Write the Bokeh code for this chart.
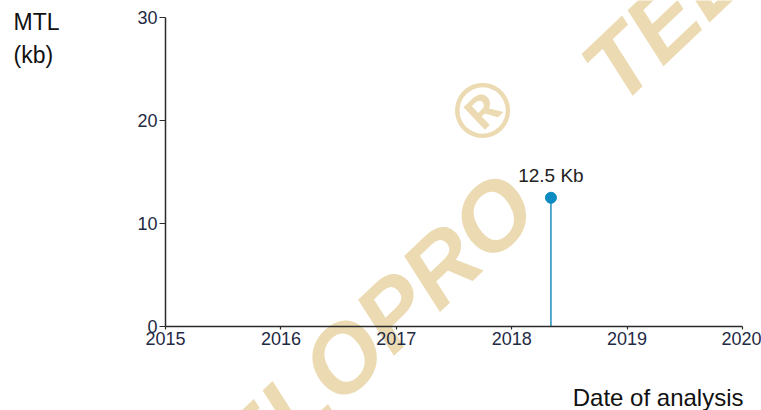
from bokeh.plotting import figure
from bokeh.models import ColumnDataSource, Label, FixedTicker, Range1d
from bokeh.embed import file_html
from bokeh.resources import INLINE

# ---- data ----
year_ticks = [2015, 2016, 2017, 2018, 2019, 2020]
mtl_ticks = [0, 10, 20, 30]
analysis_dates = [2018.34]
mtl_kb = [12.5]
point_labels = ["%.1f Kb" % v for v in mtl_kb]

W, H = 761, 410
# frame covers whole canvas; axes are pinned at fixed locations
px_per_year = 577 / 5.0
px_per_kb = 309 / 30.0
x0 = 2015 - 165 / px_per_year
x1 = 2020 + (W - 742) / px_per_year
y0 = 0 - (H - 326) / px_per_kb
y1 = 30 + 17 / px_per_kb

p = figure(width=W, height=H, output_backend="svg", toolbar_location=None,
           x_range=Range1d(x0, x1), y_range=Range1d(y0, y1), min_border=0,
           min_border_left=0, min_border_right=0, min_border_top=0,
           min_border_bottom=0)
p.outline_line_color = None
p.grid.visible = False
p.background_fill_color = "white"
p.border_fill_color = "white"

FONT = "Arial"

# watermark (behind everything)
wm_color = "#ecdbb2"
for (sx, sy) in [(186, -97), (597, 327)]:
    p.add_layout(Label(x=sx, y=sy, x_units="screen", y_units="screen",
                       text="TELOPRO", angle=0.76, text_align="left",
                       text_baseline="middle", text_font=FONT,
                       text_font_style="bold italic", text_font_size="95px",
                       text_color=wm_color, level="underlay"))
p.add_layout(Label(x=482, y=300, x_units="screen", y_units="screen",
                   text="\u00ae", angle=0.76, text_align="center",
                   text_baseline="middle", text_font=FONT,
                   text_font_style="bold", text_font_size="78px",
                   text_color=wm_color, level="underlay"))

for ax in (p.xaxis, p.yaxis):
    ax.axis_line_color = "#2b2b2b"
    ax.axis_line_width = 1.5
    ax.major_tick_line_color = "#2b2b2b"
    ax.major_tick_line_width = 1.2
    ax.minor_tick_line_color = None
    ax.major_tick_in = 0
    ax.major_label_text_font = FONT
    ax.major_label_text_font_size = "18px"
    ax.major_label_text_color = "#1f2a44"

p.xaxis.fixed_location = 0
p.xaxis.bounds = (year_ticks[0], year_ticks[-1])
p.xaxis.ticker = FixedTicker(ticks=year_ticks)
p.xaxis.major_tick_out = 3
p.xaxis.major_label_standoff = 2
p.yaxis.fixed_location = year_ticks[0]
p.yaxis.bounds = (mtl_ticks[0], mtl_ticks[-1])
p.yaxis.ticker = FixedTicker(ticks=mtl_ticks)
p.yaxis.major_tick_out = 6
p.yaxis.major_label_standoff = 2

src = ColumnDataSource(dict(x=analysis_dates, y=mtl_kb, y0=[0] * len(mtl_kb)))
p.segment(x0="x", y0="y0", x1="x", y1="y", source=src,
          line_color="#1f8fbd", line_width=1.5)
p.scatter(x="x", y="y", source=src, size=11, fill_color="#0b8bc1",
          line_color="#0b8bc1")
for xv, yv, lab in zip(analysis_dates, mtl_kb, point_labels):
    p.add_layout(Label(x=xv, y=yv, text=lab, y_offset=22,
                       text_align="center", text_baseline="alphabetic",
                       text_font=FONT, text_font_size="19px",
                       text_color="#222222"))

# axis titles
p.add_layout(Label(x=13, y=389, x_units="screen", y_units="screen", text="MTL",
                   text_font=FONT, text_font_size="23px",
                   text_color="#111111", text_baseline="alphabetic"))
p.add_layout(Label(x=13, y=356, x_units="screen", y_units="screen", text="(kb)",
                   text_font=FONT, text_font_size="23px",
                   text_color="#111111", text_baseline="alphabetic"))
p.add_layout(Label(x=743, y=13, x_units="screen", y_units="screen",
                   text="Date of analysis", text_align="right",
                   text_font=FONT, text_font_size="24px",
                   text_color="#111111", text_baseline="alphabetic"))

open("out.html", "w").write(file_html(p, INLINE))
